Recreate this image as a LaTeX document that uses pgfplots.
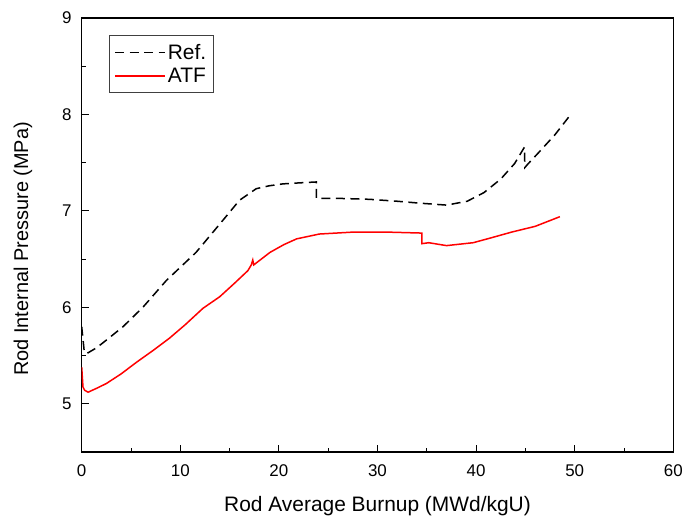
\documentclass[border=0pt]{standalone}
\usepackage{pgfplots}
\pgfplotsset{compat=1.18}
\usepackage{fontspec}
\setmainfont{Liberation Sans}
\begin{document}
\begin{tikzpicture}
\begin{axis}[
  at={(0bp,0bp)}, anchor=south west,
  scale only axis, width=591.6bp, height=434bp,
  xmin=0, xmax=60, ymin=4.5, ymax=9,
  xtick={0,10,...,60}, ytick={5,6,7,8,9},
  minor x tick num=1, minor y tick num=1,
  tick align=inside, xtick pos=left, ytick pos=left,
  major tick length=7bp, minor tick length=4bp,
  axis line style={line width=1.3bp},
  every tick/.style={black, line width=1bp},
  /pgf/number format/assume math mode=true,
  tick label style={font=\fontsize{17}{20}\selectfont},
  xticklabel style={anchor=base, yshift=-24.7bp},
  yticklabel style={anchor=east, inner xsep=0bp, xshift=-10bp},
  xlabel={Rod Average Burnup (MWd/kgU)},
  ylabel={Rod Internal Pressure (MPa)},
  label style={font=\fontsize{21}{24}\selectfont},
  xlabel style={at={(axis description cs:0.5,-0.1376)}, anchor=base},
  ylabel style={at={(axis description cs:-0.0992,0.468)}, anchor=center,
    font=\fontsize{20}{24}\selectfont},
  legend style={at={(axis description cs:0.0461,0.961)}, anchor=north west,
    draw=black!75, line width=0.8bp, font=\fontsize{21}{24}\selectfont,
    inner xsep=5bp, inner ysep=7bp, row sep=3bp},
  legend cell align=left,
  legend image code/.code={\draw[#1] (0bp,0bp) -- (50bp,0bp);},
  no markers,
]
\addplot[black, line width=1.5bp, dash pattern=on 9bp off 5.5bp] coordinates {
(0,5.80) (0.25,5.55) (0.5,5.52) (1.5,5.58) (2.5,5.66) (4.2,5.80) (6.2,6.00)
(8.6,6.28) (11.6,6.57) (14.3,6.90) (16.0,7.11) (17.7,7.23) (19,7.26) (20.4,7.28)
(22,7.29) (23.8,7.30) (23.8,7.13) (26,7.13) (29.2,7.12) (32,7.10) (34.3,7.08)
(37,7.06) (39.1,7.10) (40.8,7.19) (42.5,7.33) (43.9,7.49) (44.9,7.66) (44.95,7.45)
(45.2,7.48) (46.3,7.60) (48.0,7.79) (49.6,8.00)
};
\addlegendentry{Ref.}
\addplot[red, line width=1.5bp] coordinates {
(0,5.38) (0.13,5.175) (0.3,5.14) (0.65,5.12) (1.5,5.16) (2.5,5.21) (4,5.31)
(5.55,5.43) (7.2,5.55) (8.9,5.68) (10.5,5.82) (12.3,5.99) (14.0,6.11) (15.5,6.25)
(16.85,6.38) (17.2,6.44) (17.35,6.49) (17.45,6.44) (19.1,6.57) (20.5,6.65)
(21.8,6.71) (24.1,6.76) (27.5,6.78) (31,6.78) (34.5,6.77) (34.5,6.66) (35.2,6.67)
(37,6.64) (39.7,6.67) (41.5,6.72) (43.6,6.78) (46,6.84) (48.5,6.94)
};
\addlegendentry{ATF}
\end{axis}
\pgfresetboundingbox
\path (-81.7bp,-66bp) rectangle (602.3bp,452bp);
\end{tikzpicture}
\end{document}
